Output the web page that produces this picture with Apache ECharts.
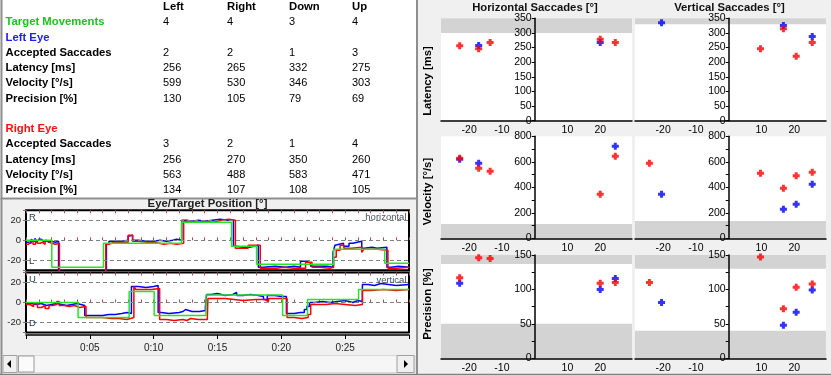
<!DOCTYPE html>
<html><head><meta charset="utf-8">
<script src="https://cdn.jsdelivr.net/npm/echarts@6/dist/echarts.min.js"></script>
<style>html,body{margin:0;padding:0;background:#f0f0f0;overflow:hidden}#c{width:831px;height:376px}</style>
</head><body><div id="c"></div><script>
// ---------- table data ----------
const tableColumns = ['Left', 'Right', 'Down', 'Up'];
const targetMovements = [4, 4, 3, 4];
const leftAccepted = [2, 2, 1, 3];
const leftLatency = [256, 265, 332, 275];
const leftVelocity = [599, 530, 346, 303];
const leftPrecision = [130, 105, 79, 69];
const rightAccepted = [3, 2, 1, 4];
const rightLatency = [256, 270, 350, 260];
const rightVelocity = [563, 488, 583, 471];
const rightPrecision = [134, 107, 108, 105];

// ---------- eye / target traces [time s, deg] ----------
const hTarget = [[0,0],[2.02,-27],[6.07,-3],[12.18,18],[16.1,-6],[18.06,-24],[24.1,-9],[28.1,-23],[30,-23]];
const vTarget = [[0,0],[4.08,-15],[8.08,11],[10.04,-13],[14.1,7.5],[20.1,-13],[22.05,3],[26.05,13],[30,13]];
const hBlue = [[0,-2],[0.2,-3],[0.4,1],[0.55,-1],[0.7,2],[0.85,-2],[1.0,1],[1.2,-1],[1.4,0],[1.6,-2],[1.8,-1],[2.0,-2],[2.3,-1],[2.55,-40],[6.3,-4],[6.5,-1],[7.0,-1],[7.5,0],[8.0,4],[8.15,5],[8.35,0],[8.8,-1],[9.4,-1],[10.0,0],[10.5,-1],[11.0,0],[11.5,1],[11.8,0],[12.2,20],[12.6,19],[13.0,20],[13.5,19],[14.0,20],[14.6,21],[15.2,20],[15.8,20],[16.25,-6],[16.5,-7],[17.0,-7],[17.5,-5],[18.2,-27],[18.6,-26],[19.5,-27],[20.3,-26],[21.0,-27],[21.5,-21],[22.0,-23],[22.3,-26],[23.0,-26],[23.6,-27],[24.05,-12],[24.2,-5],[24.35,-3],[24.87,-6],[25.3,-3],[25.6,-1],[26.3,-8],[26.5,-7],[27.1,-8],[27.5,-7],[28.27,-27],[28.6,-26],[29.2,-27],[30,-27]];
const hRed = [[0,-4],[0.2,-5],[0.35,-1],[0.55,-4],[0.75,1],[0.9,-3],[1.1,-2],[1.3,-4],[1.5,-1],[1.7,-3],[2.0,-4],[2.3,-3],[2.62,-40],[6.25,-4],[6.45,-2],[7.0,-2],[7.6,-2],[8.0,5],[8.35,-1],[8.8,-2],[9.5,-2],[10.0,-3],[10.4,-4],[10.8,-3],[11.3,-4],[11.8,-3],[12.35,19],[12.8,18],[13.4,19],[14.0,18],[14.6,20],[15.3,21],[15.9,20],[16.4,-8],[16.8,-8],[17.4,-5],[18.1,-5],[18.35,-28],[19.0,-28],[19.6,-27],[20.2,-28],[21.0,-28],[21.9,-22],[22.4,-27],[23.0,-28],[23.8,-27],[24.1,-17],[24.3,-10],[24.6,-5],[24.9,-8],[25.5,-7],[26.3,-12],[26.45,-9],[27.5,-10],[28.35,-28],[29.0,-27],[30,-28]];
const vBlue = [[0,-1],[0.4,-2],[0.8,-1],[1.2,-3],[1.6,-2],[2.0,-1],[2.4,-2],[2.8,-3],[3.2,-2],[3.6,-1],[4.0,-2],[4.3,-3],[4.6,-13],[5.5,-13],[6.0,-12],[6.5,-12],[7.0,-11],[7.5,-10],[7.9,-11],[8.26,16],[8.8,15],[9.4,16],[10.0,17],[10.35,-10],[10.6,-11],[11.2,-10],[12.0,-9],[12.3,-7],[12.5,-9],[13.0,-9],[13.6,-8],[14.05,-4],[14.15,8],[14.5,9],[15.0,7],[15.6,8],[16.2,10],[16.5,7],[17.0,8],[17.6,7],[18.2,6],[18.6,3],[18.9,7],[19.5,6],[20.0,6],[20.4,-11],[21.0,-10],[21.5,-10],[21.8,-7],[22.0,-4],[22.2,0],[22.6,1],[23.2,0],[23.8,1],[24.4,2],[25.0,0],[25.6,2],[26.0,1],[26.35,18],[26.8,17],[27.3,19],[27.8,18],[28.4,17],[29,18],[30,18]];
const vRed = [[0,-2],[0.3,-4],[0.6,-1],[0.9,-5],[1.2,-3],[1.5,-6],[1.8,-3],[2.1,-2],[2.4,1],[2.6,-3],[3.0,-4],[3.4,-3],[3.8,-5],[4.2,-4],[4.7,-15],[5.5,-15],[6.0,-16],[6.7,-16],[7.3,-17],[7.9,-15],[8.45,16],[8.6,13],[9.2,13],[9.8,14],[10.47,-17],[11.0,-18],[11.6,-17],[12.3,-18],[12.6,-16],[12.9,-17],[13.5,-17],[14.2,-18],[14.25,4],[15.0,4],[15.6,3],[16.3,2],[17.0,3],[18.0,3],[18.7,1],[19.0,4],[20.0,4],[20.45,-15],[21.0,-16],[21.6,-15],[22.1,-12],[22.3,-2],[22.8,-2],[23.5,-1],[24.2,-2],[25.0,-3],[25.8,-2],[26.35,12],[27.0,13],[28.0,12],[29.0,13],[30,13]];
const traceGridLines = [-20, 0, 20];
const timeTickValues = [5, 10, 15, 20, 25];
const timeTickLabels = ['0:05', '0:10', '0:15', '0:20', '0:25'];

// ---------- saccade scatter data [amplitude deg, value] ----------
const hLatBlue = [[-17.1,257],[20,267]];
const hLatRed = [[-22.9,256],[-17.1,246],[-13.6,267],[20,278],[24.6,267]];
const vLatBlue = [[-20.5,335],[16.7,325],[25.5,288]];
const vLatRed = [[-24.2,362],[9.7,246],[16.7,314],[20.6,220],[25.5,267]];
const hVelBlue = [[-22.9,620],[-17.1,588],[24.6,721]];
const hVelRed = [[-22.9,627],[-17.1,549],[-13.6,525],[20,345],[24.6,643]];
const vVelBlue = [[-20.5,345],[16.7,227],[20.6,267],[25.5,424]];
const vVelRed = [[-24.2,588],[9.7,510],[16.7,392],[20.6,491],[25.5,518]];
const hPrecBlue = [[-22.9,109],[20,100],[24.6,116]];
const hPrecRed = [[-22.9,117],[-17.1,146],[-13.6,145],[20,109],[24.6,110]];
const vPrecBlue = [[-20.5,81],[16.7,48],[20.6,67],[25.5,99]];
const vPrecRed = [[-24.2,110],[9.7,147],[16.7,72],[20.6,103],[25.5,108]];
// out-of-norm (grey) bands
const hLatBands = [[300,350]];
const vLatBands = [[330,350]];
const hVelBands = [[0,112]];
const vVelBands = [[0,136]];
const hPrecBands = [[137,150],[0,50]];
const vPrecBands = [[130,150],[0,40]];
const columnTitles = ['Horizontal Saccades [°]', 'Vertical Saccades [°]'];
const rowTitles = ['Latency [ms]', 'Velocity [°/s]', 'Precision [%]'];
const rowMax = [350, 800, 150];
const rowTick = [50, 100, 25];
const rowLabelStep = [50, 200, 50];
const ampMin = -28.6, ampMax = 29.7;

// ---------- rendering ----------
const FONT = '"Liberation Sans", Arial, sans-serif';
const BLUE = '#0000ff', RED = '#ff0000', GREEN = '#22e622';
const PLUS = 'path://M2,0H5V2H7V5H5V7H2V5H0V2H2Z';
const chart = echarts.init(document.getElementById('c'));

const panels = [
  {col:0,row:0,blue:hLatBlue,red:hLatRed,bands:hLatBands},
  {col:1,row:0,blue:vLatBlue,red:vLatRed,bands:vLatBands},
  {col:0,row:1,blue:hVelBlue,red:hVelRed,bands:hVelBands},
  {col:1,row:1,blue:vVelBlue,red:vVelRed,bands:vVelBands},
  {col:0,row:2,blue:hPrecBlue,red:hPrecRed,bands:hPrecBands},
  {col:1,row:2,blue:vPrecBlue,red:vPrecRed,bands:vPrecBands}
];
const colLeft = [441, 635], colWidth = 191;
const rowTop = [18.3, 136.3, 255], rowHeight = [102.4, 102, 103.3];
// y axis sits at amplitude 0 inside the plot
const zeroOffset = -(0 - ampMin) / (ampMax - ampMin) * colWidth;

const grid = [], xAxis = [], yAxis = [], series = [];
panels.forEach((p, i) => {
  grid.push({left: colLeft[p.col], top: rowTop[p.row], width: colWidth, height: rowHeight[p.row],
    show: true, backgroundColor: '#ffffff', borderWidth: 0});
  xAxis.push({type:'value', gridIndex:i, min:ampMin, max:ampMax, minInterval:10, maxInterval:10, z:4,
    axisLine:{show:true, onZero:false, lineStyle:{color:'#000', width:1.5}},
    axisTick:{show:false}, splitLine:{show:false},
    axisLabel:{fontFamily:FONT, fontSize:10.5, color:'#000', margin:4,
      formatter: v => (Math.abs(v % 10) < 1e-6 && v !== 0) ? String(v) : ''}});
  const step = rowLabelStep[p.row];
  yAxis.push({type:'value', gridIndex:i, position:'left', offset:zeroOffset, min:0, max:rowMax[p.row], interval:rowTick[p.row], z:4,
    axisLine:{show:true, onZero:false, lineStyle:{color:'#000', width:1.5}},
    axisTick:{show:true, length:3, lineStyle:{color:'#000'}}, splitLine:{show:false},
    axisLabel:{fontFamily:FONT, fontSize:10.5, color:'#000', margin:3,
      formatter: v => (Math.abs(v % step) < 1e-6) ? String(v) : ''}});
  series.push({type:'scatter', xAxisIndex:i, yAxisIndex:i, data:p.blue, symbol:PLUS, symbolSize:7,
    itemStyle:{color:BLUE}, z:5, clip:true, silent:true,
    markArea:{silent:true, itemStyle:{color:'#d3d3d3'}, data:p.bands.map(b => [{yAxis:b[0]},{yAxis:b[1]}])}});
  series.push({type:'scatter', xAxisIndex:i, yAxisIndex:i, data:p.red, symbol:PLUS, symbolSize:7,
    itemStyle:{color:RED}, z:6, clip:true, silent:true});
});

// trace grids: 6 horizontal, 7 vertical, 8 time axis
const traceTops = [210.3, 272.5];
traceTops.forEach(t => {
  grid.push({left:26, top:t, width:383, height:60, show:true, backgroundColor:'#fff', borderColor:'#000', borderWidth:2});
});
grid.push({left:26, top:334, width:383, height:1, show:false});

[6, 7].forEach(gi => {
  ['bottom','top'].forEach(pos => {
    xAxis.push({type:'value', gridIndex:gi, position:pos, min:0, max:30, interval:1,
      axisLine:{show:false}, splitLine:{show:false}, axisLabel:{show:false},
      axisTick:{show:true, inside:true, length:3, lineStyle:{color:'#b05050'}}});
  });
  yAxis.push({type:'value', gridIndex:gi, min:-30, max:30, minInterval:20, maxInterval:20,
    axisLine:{show:false}, splitLine:{show:false},
    axisTick:{show:true, length:3, lineStyle:{color:'#777'}},
    axisLabel:{fontFamily:FONT, fontSize:9.5, color:'#222', margin:5,
      formatter: v => (Math.abs(v) < 29) ? String(v) : ''}});
});
xAxis.push({type:'value', gridIndex:8, position:'bottom', min:0, max:30, interval:5,
  axisLine:{show:true, lineStyle:{color:'#000', width:1.5}},
  axisTick:{show:true, length:4, lineStyle:{color:'#000'}}, splitLine:{show:false},
  axisLabel:{fontFamily:FONT, fontSize:10, color:'#222', margin:8,
    formatter: v => { const i = timeTickValues.indexOf(v); return i >= 0 ? timeTickLabels[i] : ''; }}});
yAxis.push({type:'value', gridIndex:8, show:false, min:0, max:1});

function traceSeries(data, color, xi, yi, z, extra) {
  return Object.assign({type:'line', xAxisIndex:xi, yAxisIndex:yi, data:data, step:'end', showSymbol:false,
    symbol:'none', lineStyle:{color:color, width:1.5}, itemStyle:{color:color}, z:z, clip:true, silent:true}, extra || {});
}
const dashed = {markLine:{silent:true, symbol:['none','none'], label:{show:false},
  lineStyle:{type:[4,3], color:'#808080', width:1}, data: traceGridLines.map(v => ({yAxis:v}))}};
series.push(traceSeries(hBlue, BLUE, 6, 6, 3, dashed));
series.push(traceSeries(hRed, RED, 6, 6, 4));
series.push(traceSeries(hTarget, GREEN, 6, 6, 5));
series.push(traceSeries(vBlue, BLUE, 8, 7, 3, dashed));
series.push(traceSeries(vRed, RED, 8, 7, 4));
series.push(traceSeries(vTarget, GREEN, 8, 7, 5));

// ---------- graphic: table, titles, frame, scrollbar ----------
function txt(x, y, text, font, fill, align, extra) {
  return Object.assign({type:'text', x:x, y:y, silent:true, z:10,
    style:{text:text, font:font, fill:fill, align:align||'left', verticalAlign:'middle',
      textAlign:align||'left', textVerticalAlign:'middle'}}, extra || {});
}
const BOLD = 'bold 11.3px ' + FONT, NORM = '11px ' + FONT;
const g = [];
g.push({type:'rect', z:0, silent:true, shape:{x:1.5, y:-2, width:415.5, height:200.5}, style:{fill:'#fff', stroke:'#8f8f8f', lineWidth:2}});
g.push({type:'line', z:0, silent:true, shape:{x1:1.5, y1:198, x2:1.5, y2:374}, style:{stroke:'#8f8f8f', lineWidth:2}});
g.push({type:'line', z:0, silent:true, shape:{x1:417, y1:198, x2:417, y2:374}, style:{stroke:'#8f8f8f', lineWidth:2}});
g.push({type:'line', z:0, silent:true, shape:{x1:0, y1:374.5, x2:831, y2:374.5}, style:{stroke:'#808080', lineWidth:1.5}});

const colX = [163, 227, 289, 352];
tableColumns.forEach((c, i) => g.push(txt(colX[i], 7.3, c, BOLD, '#000')));
const tableRows = [
  ['Target Movements', '#1cc31c', targetMovements],
  ['Left Eye', '#2020ff', null],
  ['Accepted Saccades', '#000', leftAccepted],
  ['Latency [ms]', '#000', leftLatency],
  ['Velocity [°/s]', '#000', leftVelocity],
  ['Precision [%]', '#000', leftPrecision],
  ['Right Eye', '#ff1010', null],
  ['Accepted Saccades', '#000', rightAccepted],
  ['Latency [ms]', '#000', rightLatency],
  ['Velocity [°/s]', '#000', rightVelocity],
  ['Precision [%]', '#000', rightPrecision]
];
const rowY = [22.3, 38.3, 53.3, 68.3, 83.3, 99, 129, 144.3, 160.3, 175.3, 190.3];
tableRows.forEach((r, k) => {
  g.push(txt(5.5, rowY[k], r[0], BOLD, r[1]));
  if (r[2]) r[2].forEach((v, i) => g.push(txt(colX[i], rowY[k], String(v), NORM, '#000')));
});

g.push(txt(207.5, 203.5, 'Eye/Target Position [°]', BOLD, '#222', 'center'));
const SMALL = '9.5px ' + FONT;
g.push(txt(29, 217.5, 'R', SMALL, '#2a3a55'));
g.push(txt(29, 261, 'L', SMALL, '#2a3a55'));
g.push(txt(29, 279.5, 'U', SMALL, '#2a3a55'));
g.push(txt(29, 323, 'D', SMALL, '#2a3a55'));
g.push(txt(406.5, 217.7, 'horizontal', SMALL, '#4a5560', 'right'));
g.push(txt(406.5, 280, 'vertical', SMALL, '#4a5560', 'right'));

g.push(txt(535, 8, columnTitles[0], BOLD, '#111', 'center'));
g.push(txt(729.5, 8, columnTitles[1], BOLD, '#111', 'center'));
const rowTitleY = [81, 191.5, 304];
rowTitles.forEach((t, k) => g.push(txt(428, rowTitleY[k], t, 'bold 11.3px ' + FONT, '#000', 'center', {rotation: Math.PI/2})));

// scrollbar
g.push({type:'rect', z:1, silent:true, shape:{x:3, y:355.5, width:412, height:17}, style:{fill:'#f6f6f6', stroke:'#d8d8d8', lineWidth:1}});
g.push({type:'rect', z:2, silent:true, shape:{x:3, y:355.5, width:14, height:17}, style:{fill:'#f0f0f0', stroke:'#a0a0a0', lineWidth:1}});
g.push({type:'polygon', z:3, silent:true, shape:{points:[[7,364],[11,360],[11,368]]}, style:{fill:'#000'}});
g.push({type:'rect', z:2, silent:true, shape:{x:18.5, y:356, width:15.5, height:16}, style:{fill:'#fbfbfb', stroke:'#9a9a9a', lineWidth:1}});
g.push({type:'rect', z:2, silent:true, shape:{x:397, y:355.5, width:17, height:17}, style:{fill:'#f0f0f0', stroke:'#a0a0a0', lineWidth:1}});
g.push({type:'polygon', z:3, silent:true, shape:{points:[[408,364],[404,360],[404,368]]}, style:{fill:'#000'}});

chart.setOption({
  animation:false,
  backgroundColor:'#f0f0f0',
  textStyle:{fontFamily:FONT},
  grid:grid, xAxis:xAxis, yAxis:yAxis, series:series,
  graphic:{elements:g}
});
</script></body></html>
